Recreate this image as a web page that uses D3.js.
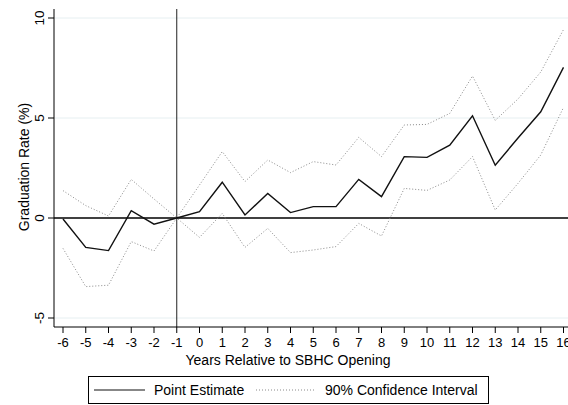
<!DOCTYPE html>
<html>
<head>
<meta charset="utf-8">
<script src="https://cdn.jsdelivr.net/npm/d3@7"></script>
<style>
  body { margin: 0; background: #fff; }
  svg { display: block; font-family: "Liberation Sans", Arial, sans-serif; }
</style>
</head>
<body>
<script>
// data
var years = [-6,-5,-4,-3,-2,-1,0,1,2,3,4,5,6,7,8,9,10,11,12,13,14,15,16];
var estimate = [-0.05,-1.47,-1.63,0.37,-0.31,0,0.32,1.79,0.15,1.23,0.27,0.57,0.57,1.93,1.07,3.07,3.03,3.64,5.11,2.64,4.0,5.31,7.53];
var upperCI = [1.37,0.62,0.1,1.93,0.95,0,1.65,3.32,1.82,2.9,2.27,2.82,2.65,4.03,3.07,4.65,4.68,5.23,7.1,4.88,5.95,7.3,9.42];
var lowerCI = [-1.52,-3.43,-3.36,-1.18,-1.65,0,-0.97,0.23,-1.47,-0.52,-1.73,-1.6,-1.43,-0.27,-0.9,1.48,1.38,1.9,3.07,0.4,1.73,3.15,5.53];
var yTicks = [-5,0,5,10];

var W = 568, H = 405;
var svg = d3.select('body').append('svg').attr('width', W).attr('height', H);

// scales
var x = d3.scaleLinear().domain([-6,16]).range([63,563.5]);
var y = d3.scaleLinear().domain([-5,10]).range([318,18]);
var plotTop = 9, plotBot = 327, plotLeft = 54;

// ------------- gridlines
svg.selectAll('.grid').data(yTicks.filter(d => d !== 0)).enter()
   .append('line').attr('x1', plotLeft).attr('x2', W)
   .attr('y1', d => y(d)).attr('y2', d => y(d))
   .attr('stroke', '#e6eff1').attr('stroke-width', 1);

// ------------- zero line + reference year line
svg.append('line').attr('x1', plotLeft).attr('x2', W)
   .attr('y1', y(0)).attr('y2', y(0)).attr('stroke', '#000').attr('stroke-width', 1.3);
svg.append('line').attr('x1', x(-1)).attr('x2', x(-1))
   .attr('y1', plotTop).attr('y2', plotBot).attr('stroke', '#222').attr('stroke-width', 1);

// ------------- lines
var line = (arr) => d3.line().x((d, i) => x(years[i])).y(d => y(d))(arr);

svg.append('path').attr('d', line(upperCI)).attr('fill', 'none')
   .attr('stroke', '#8a8a8a').attr('stroke-width', 1).attr('stroke-dasharray', '1,2');
svg.append('path').attr('d', line(lowerCI)).attr('fill', 'none')
   .attr('stroke', '#8a8a8a').attr('stroke-width', 1).attr('stroke-dasharray', '1,2');
svg.append('path').attr('d', line(estimate)).attr('fill', 'none')
   .attr('stroke', '#111').attr('stroke-width', 1.4).attr('stroke-linejoin', 'miter');

// ------------- y axis
var yAxis = svg.append('g').attr('transform', `translate(${plotLeft},0)`);
yAxis.append('line').attr('x1', 0).attr('x2', 0).attr('y1', plotTop).attr('y2', plotBot)
     .attr('stroke', '#000').attr('stroke-width', 1);
yAxis.selectAll('.yt').data(yTicks).enter().append('line')
     .attr('x1', -6).attr('x2', 0).attr('y1', d => y(d)).attr('y2', d => y(d))
     .attr('stroke', '#000');
yAxis.selectAll('.yl').data(yTicks).enter().append('text')
     .attr('transform', d => `translate(-10,${y(d)}) rotate(-90)`)
     .attr('text-anchor', 'middle').attr('font-size', 13.5).text(d => d);
svg.append('text').attr('transform', `translate(29,167) rotate(-90)`)
   .attr('text-anchor', 'middle').attr('font-size', 14).text('Graduation Rate (%)');

// ------------- x axis
var xAxis = svg.append('g').attr('transform', `translate(0,${plotBot})`);
xAxis.append('line').attr('x1', plotLeft).attr('x2', W).attr('y1', 0).attr('y2', 0)
     .attr('stroke', '#000');
xAxis.selectAll('.xt').data(years).enter().append('line')
     .attr('x1', d => x(d)).attr('x2', d => x(d)).attr('y1', 0).attr('y2', 6)
     .attr('stroke', '#000');
xAxis.selectAll('.xl').data(years).enter().append('text')
     .attr('x', d => x(d)).attr('y', 20).attr('text-anchor', 'middle')
     .attr('font-size', 13).text(d => d);
svg.append('text').attr('x', 288).attr('y', 365).attr('text-anchor', 'middle')
   .attr('font-size', 14).text('Years Relative to SBHC Opening');

// ------------- legend
var leg = svg.append('g');
leg.append('rect').attr('x', 88.5).attr('y', 376.5).attr('width', 400).attr('height', 27)
   .attr('fill', '#fff').attr('stroke', '#000');
leg.append('line').attr('x1', 94).attr('x2', 145).attr('y1', 390).attr('y2', 390)
   .attr('stroke', '#111').attr('stroke-width', 1.2);
leg.append('text').attr('x', 154).attr('y', 395).attr('font-size', 14).text('Point Estimate');
leg.append('line').attr('x1', 256).attr('x2', 314).attr('y1', 390).attr('y2', 390)
   .attr('stroke', '#8a8a8a').attr('stroke-dasharray', '1,2');
leg.append('text').attr('x', 325).attr('y', 395).attr('font-size', 14).text('90% Confidence Interval');
</script>
</body>
</html>
